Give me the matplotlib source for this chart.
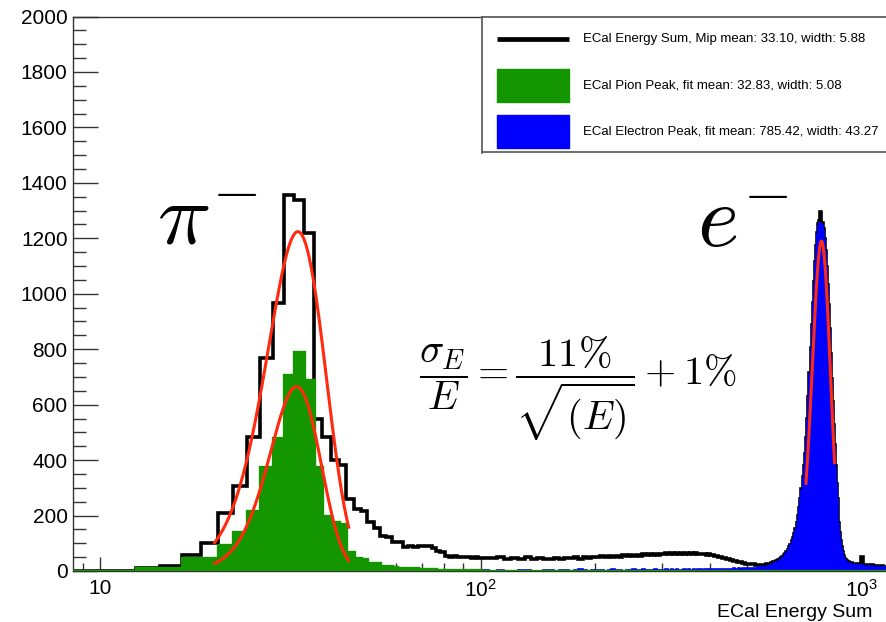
import numpy as np
import matplotlib
matplotlib.use("Agg")
import matplotlib.pyplot as plt
from matplotlib.patches import Rectangle
from matplotlib.ticker import LogLocator, MultipleLocator, NullFormatter

plt.rcParams['font.family'] = ['Liberation Sans', 'DejaVu Sans']

# bin edges: 2 wide up to 100, 5 wide up to 1000, 10 wide above
edges = np.concatenate([np.arange(0.4, 100.5, 2), np.arange(105.4, 600.5, 5),
                        np.arange(605.4, 1000.5, 5), np.arange(1010.4, 1300.5, 10)])
green_edges = np.append(np.arange(0.4, 100.5, 2), 1300.4)

# ECal energy sum, all events
black_lo = [0, 0, 0, 0, 0, 0, 10, 18, 58, 102,
            208, 306, 482, 767, 968, 1356, 1338, 1220, 547, 484,
            400, 382, 258, 222, 218, 178, 156, 126, 122, 106,
            104, 88, 90, 88, 91, 89, 90, 82, 72, 68,
            53, 51, 54, 50, 52, 49, 51, 48, 50, 47]
black_mid = [48, 46, 50, 44, 47, 45, 49, 43, 46, 44,
             45, 48, 43, 47, 46, 50, 45, 49, 47, 51,
             50, 53, 49, 55, 52, 54, 50, 56, 53, 57,
             55, 58, 54, 60, 57, 61, 58, 62, 59, 63,
             61, 64, 60, 65, 62, 66, 63, 64, 61, 65,
             63, 66, 62, 64, 61, 63, 60, 62, 58, 60,
             57, 58, 54, 55, 51, 52, 48, 47, 44, 43,
             41, 40, 37, 36, 34, 33, 31, 30, 29, 27,
             27, 26, 25, 24, 24, 23, 23, 22, 22, 22,
             22, 23, 24, 25, 26, 27, 29, 31, 33, 35]
black_hi = [37, 39, 43, 47, 51, 57, 63, 69, 77, 85,
            95, 107, 119, 133, 151, 173, 199, 229, 261, 295,
            338, 378, 423, 478, 548, 628, 713, 803, 888, 968,
            1043, 1113, 1173, 1220, 1250, 1262, 1294, 1256, 1232, 1198,
            1153, 1098, 1033, 958, 873, 783, 693, 608, 528, 453,
            377, 315, 261, 213, 173, 138, 109, 85, 67, 53,
            45, 39, 35, 33, 31, 30, 29, 28, 28, 27,
            27, 26, 26, 25, 25, 25, 24, 24, 24, 23]
black_top = [50, 22, 22, 21, 21, 20, 20, 19, 19, 18,
             18, 18, 17, 17, 16, 16, 16, 15, 15, 15,
             14, 14, 14, 13, 13, 13, 12, 12, 12, 11]

# electron peak selection
blue_lo = [0, 0, 0, 0, 0, 0, 0, 2, 1, 2,
           2, 1, 0, 1, 2, 1, 0, 0, 1, 0,
           2, 0, 1, 0, 0, 2, 0, 1, 0, 0,
           1, 0, 0, 2, 0, 1, 0, 0, 1, 0,
           0, 2, 0, 1, 0, 0, 1, 0, 2, 0]
blue_mid = [2, 0, 3, 1, 0, 2, 4, 1, 0, 2,
            3, 1, 5, 2, 0, 3, 6, 2, 1, 4,
            2, 5, 1, 3, 6, 2, 4, 1, 5, 3,
            6, 2, 4, 7, 3, 5, 2, 6, 4, 3,
            5, 7, 3, 6, 4, 8, 5, 3, 6, 4,
            7, 5, 8, 4, 6, 9, 5, 7, 6, 8,
            6, 9, 7, 8, 6, 9, 8, 7, 9, 8,
            8, 9, 10, 8, 9, 10, 9, 10, 11, 10,
            10, 11, 10, 12, 11, 12, 13, 12, 14, 13,
            14, 15, 16, 17, 19, 21, 23, 26, 29, 32]
blue_hi = [34, 36, 40, 44, 48, 54, 60, 66, 74, 82,
           92, 104, 116, 130, 148, 170, 196, 226, 258, 292,
           335, 375, 420, 475, 545, 625, 710, 800, 885, 965,
           1040, 1110, 1170, 1215, 1245, 1255, 1255, 1248, 1228, 1195,
           1150, 1095, 1030, 955, 870, 780, 690, 605, 525, 450,
           374, 312, 258, 210, 170, 135, 106, 82, 64, 50,
           42, 36, 32, 30, 28, 27, 26, 25, 25, 24,
           24, 23, 23, 22, 22, 22, 21, 21, 21, 20]
blue_top = [20, 19, 19, 18, 18, 17, 17, 16, 16, 15,
            15, 15, 14, 14, 13, 13, 13, 12, 12, 12,
            11, 11, 11, 10, 10, 10, 9, 9, 9, 8]

# pion peak selection (last bin covers the rest of the range)
green_vals = [0, 0, 0, 0, 0, 0, 12, 12, 46, 48,
              92, 140, 215, 376, 480, 707, 791, 689, 376, 200,
              178, 168, 70, 46, 44, 28, 28, 18, 18, 14,
              12, 12, 11, 10, 9, 8, 7, 6, 5, 5,
              4, 4, 3, 3, 3, 2, 2, 2, 2, 2, 0]

black = np.concatenate([black_lo, black_mid, black_hi, black_top])
blue = np.concatenate([blue_lo, blue_mid, blue_hi, blue_top])

# gaussian fits: amplitude, mean, width, range
fit_amp = [1224, 665, 1190]
fit_mean = [33.10, 32.83, 785.42]
fit_width = [5.88, 5.08, 43.27]
fit_range = [(20, 45), (20, 45), (715, 850)]

legend_labels = ['ECal Energy Sum, Mip mean: 33.10, width: 5.88',
                 'ECal Pion Peak, fit mean: 32.83, width: 5.08',
                 'ECal Electron Peak, fit mean: 785.42, width: 43.27']

yticks = list(range(0, 2001, 200))
xtick_vals = [10, 100, 1000]
xtick_labels = ['10', r'$\mathdefault{10^{2}}$', r'$\mathdefault{10^{3}}$']

GREEN = '#139600'
RED = '#ff2a10'
FRAME = '#333333'

W, H = 886, 622


def box(x0, y0, x1, y1):
    # pixel box (top-left origin) -> figure fraction rect
    return [x0 / W, 1 - y1 / H, (x1 - x0) / W, (y1 - y0) / H]


fig = plt.figure(figsize=(W / 100, H / 100), dpi=100)
ax = fig.add_axes(box(73.1, 16.5, 904.8, 571))

ax.stairs(black, edges, color='black', lw=2.6, zorder=2)
ax.stairs(blue, edges, fill=True, color='#0000ff', lw=0, zorder=3)
ax.stairs(blue, edges, color='#0000ff', lw=1.2, zorder=3)
ax.stairs(green_vals, green_edges, fill=True, color=GREEN, lw=0, zorder=4)
ax.stairs(green_vals, green_edges, color=GREEN, lw=2.4, zorder=4)

for a, m, s, (lo, hi) in zip(fit_amp, fit_mean, fit_width, fit_range):
    xf = np.linspace(lo, hi, 300)
    ax.plot(xf, a * np.exp(-0.5 * ((xf - m) / s) ** 2), color=RED, lw=2.2, zorder=5)

ax.set_xscale('log')
ax.set_xlim(8.5, 1300)
ax.set_ylim(0, 2000)

ax.set_xticks(xtick_vals, xtick_labels)
ax.xaxis.set_minor_locator(LogLocator(base=10, subs=np.arange(2, 10)))
ax.xaxis.set_minor_formatter(NullFormatter())
ax.set_yticks(yticks)
ax.yaxis.set_minor_locator(MultipleLocator(50))

ax.tick_params(axis='both', which='both', direction='in', color=FRAME, width=1,
               labelsize=15, top=False, right=False)
ax.tick_params(axis='y', which='major', length=18, pad=4)
ax.tick_params(axis='y', which='minor', length=9.4)
ax.tick_params(axis='x', which='major', length=10, pad=5.5)
ax.tick_params(axis='x', which='minor', length=5.5)
for sp in ax.spines.values():
    sp.set_color(FRAME)
    sp.set_linewidth(1)

fig.text(717 / W, 1 - 617 / H, 'ECal Energy Sum', fontsize=14, ha='left', va='baseline')

# particle labels and resolution formula
fig.text(157 / W, 1 - 245 / H, r'$\pi^{-}$', fontsize=64, math_fontfamily='cm', va='baseline')
fig.text(697 / W, 1 - 247 / H, r'$e^{-}$', fontsize=64, math_fontfamily='cm', va='baseline')
fig.text(419 / W, 1 - 389 / H, r'$\dfrac{\sigma_E}{E} = \dfrac{11\%}{\sqrt{(E)}} + 1\%$',
         fontsize=29, math_fontfamily='cm', va='center', ha='left')

# legend box
leg = fig.add_axes(box(482.5, 16.7, 905, 152.5))
leg.set_xlim(482.5, 905)
leg.set_ylim(152.5, 16.7)
leg.set_xticks([])
leg.set_yticks([])
for sp in leg.spines.values():
    sp.set_color('#555555')
    sp.set_linewidth(1.2)
leg.plot([497.3, 569.3], [39.3, 39.3], color='black', lw=3.4, solid_capstyle='butt')
leg.add_patch(Rectangle((496.7, 69.3), 72.6, 33, color=GREEN))
leg.add_patch(Rectangle((496.7, 115), 72.6, 33.3, color='#0000ff'))
for yc, lab in zip([39.3, 85.7, 131.3], legend_labels):
    leg.text(583.3, yc, lab, fontsize=9.5, va='center', ha='left')

fig.savefig('out.png', dpi=100)
